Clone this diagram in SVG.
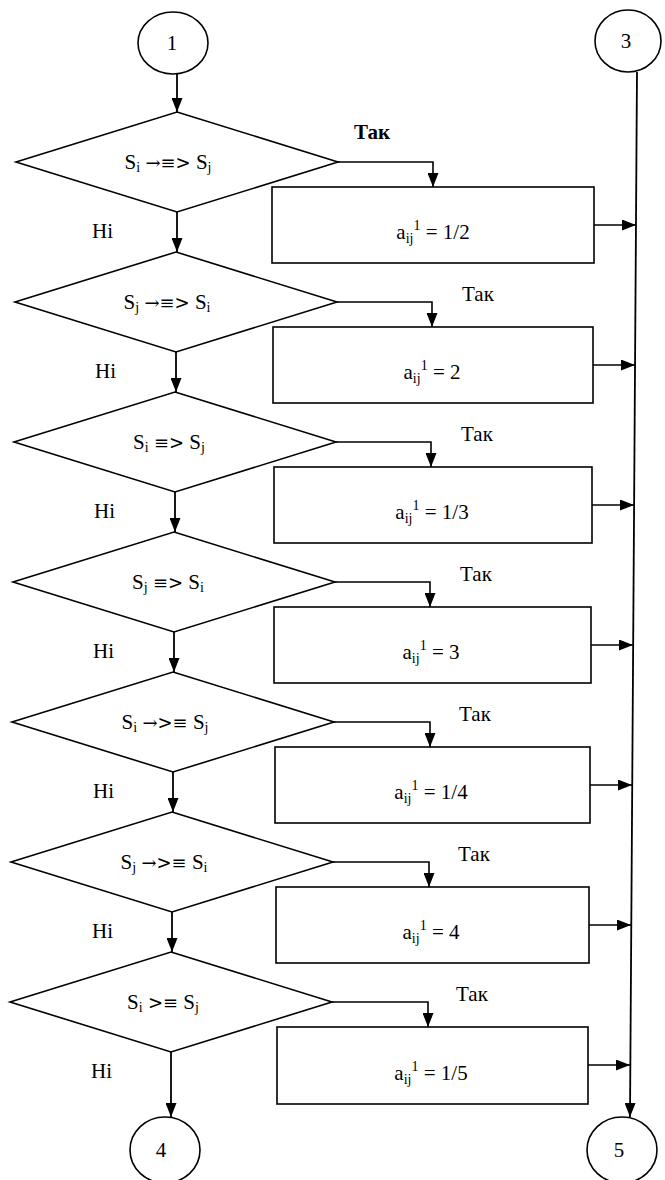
<svg xmlns="http://www.w3.org/2000/svg" width="665" height="1180" viewBox="0 0 665 1180">
<style>
.s{fill:none;stroke:#000;stroke-width:1.6}
.sh{fill:#fff;stroke:#000;stroke-width:1.6}
.c{fill:none;stroke:#000;stroke-width:1.8}
text{font-family:'Liberation Serif','DejaVu Serif',serif;font-size:21px;fill:#000}
.m{text-anchor:middle}
.sub{font-size:14px}
.ar{font-family:'DejaVu Serif',serif;font-size:18px}
</style>
<defs>
<marker id="ah" viewBox="0 0 14 11" refX="14" refY="5.5" markerWidth="14" markerHeight="11" markerUnits="userSpaceOnUse" orient="auto">
<path d="M0,0 L14,5.5 L0,11 z" fill="#000"/>
</marker>
</defs>
<rect width="665" height="1180" fill="#fff"/>

<g id="connectors">
<line class="c" x1="177" y1="74" x2="177" y2="112" marker-end="url(#ah)"/>
<line class="c" x1="177" y1="212" x2="177" y2="252" marker-end="url(#ah)"/>
<line class="c" x1="176" y1="352" x2="176" y2="392" marker-end="url(#ah)"/>
<line class="c" x1="175" y1="492" x2="175" y2="532" marker-end="url(#ah)"/>
<line class="c" x1="174" y1="632" x2="174" y2="672" marker-end="url(#ah)"/>
<line class="c" x1="173" y1="772" x2="173" y2="812" marker-end="url(#ah)"/>
<line class="c" x1="172" y1="912" x2="172" y2="952" marker-end="url(#ah)"/>
<line class="c" x1="171" y1="1052" x2="171" y2="1117" marker-end="url(#ah)"/>

<polyline class="s" points="338,162 433,162 433,187" marker-end="url(#ah)"/>
<polyline class="s" points="337,302 432,302 432,327" marker-end="url(#ah)"/>
<polyline class="s" points="336,442 431,442 431,467" marker-end="url(#ah)"/>
<polyline class="s" points="335,582 430,582 430,607" marker-end="url(#ah)"/>
<polyline class="s" points="334,722 430,722 430,747" marker-end="url(#ah)"/>
<polyline class="s" points="333,862 429,862 429,887" marker-end="url(#ah)"/>
<polyline class="s" points="332,1002 428,1002 428,1027" marker-end="url(#ah)"/>

<line class="c" x1="637" y1="72" x2="630" y2="1117" marker-end="url(#ah)"/>
<line class="s" x1="594" y1="225" x2="636" y2="225" marker-end="url(#ah)"/>
<line class="s" x1="593" y1="365" x2="635" y2="365" marker-end="url(#ah)"/>
<line class="s" x1="592" y1="505" x2="634" y2="505" marker-end="url(#ah)"/>
<line class="s" x1="591" y1="645" x2="633" y2="645" marker-end="url(#ah)"/>
<line class="s" x1="590" y1="785" x2="632" y2="785" marker-end="url(#ah)"/>
<line class="s" x1="589" y1="925" x2="631" y2="925" marker-end="url(#ah)"/>
<line class="s" x1="588" y1="1065" x2="630" y2="1065" marker-end="url(#ah)"/>

<text x="354" y="139" font-weight="bold">Так</text>
<text x="462" y="301">Так</text>
<text x="461" y="441">Так</text>
<text x="460" y="581">Так</text>
<text x="459" y="721">Так</text>
<text x="458" y="861">Так</text>
<text x="456" y="1001">Так</text>

<text x="92" y="238">Hi</text>
<text x="95" y="378">Hi</text>
<text x="94" y="518">Hi</text>
<text x="93" y="658">Hi</text>
<text x="93" y="798">Hi</text>
<text x="92" y="938">Hi</text>
<text x="91" y="1078">Hi</text>
</g>

<g id="start1">
<ellipse class="sh" cx="173" cy="43" rx="35" ry="31"/>
<text class="m" x="172" y="50">1</text>
</g>
<g id="start3">
<ellipse class="sh" cx="628" cy="41" rx="33" ry="31"/>
<text class="m" x="626" y="48">3</text>
</g>
<g id="end4">
<ellipse class="sh" cx="165" cy="1150" rx="35" ry="33"/>
<text class="m" x="161" y="1157">4</text>
</g>
<g id="end5">
<ellipse class="sh" cx="622" cy="1150" rx="35" ry="33"/>
<text class="m" x="619" y="1157">5</text>
</g>

<g id="d1">
<polygon class="sh" points="177,112 338,162 177,212 16,162"/>
<text class="m" x="168" y="169">S<tspan class="sub" dy="3">i</tspan><tspan dy="-3"> </tspan><tspan class="ar">→≡&gt;</tspan> S<tspan class="sub" dy="3">j</tspan></text>
</g>
<g id="d2">
<polygon class="sh" points="176,252 337,302 176,352 15,302"/>
<text class="m" x="167" y="309">S<tspan class="sub" dy="3">j</tspan><tspan dy="-3"> </tspan><tspan class="ar">→≡&gt;</tspan> S<tspan class="sub" dy="3">i</tspan></text>
</g>
<g id="d3">
<polygon class="sh" points="175,392 336,442 175,492 14,442"/>
<text class="m" x="169" y="449">S<tspan class="sub" dy="3">i</tspan><tspan dy="-3"> </tspan><tspan class="ar">≡&gt;</tspan> S<tspan class="sub" dy="3">j</tspan></text>
</g>
<g id="d4">
<polygon class="sh" points="174,532 335,582 174,632 13,582"/>
<text class="m" x="168" y="589">S<tspan class="sub" dy="3">j</tspan><tspan dy="-3"> </tspan><tspan class="ar">≡&gt;</tspan> S<tspan class="sub" dy="3">i</tspan></text>
</g>
<g id="d5">
<polygon class="sh" points="173,672 334,722 173,772 12,722"/>
<text class="m" x="165" y="729">S<tspan class="sub" dy="3">i</tspan><tspan dy="-3"> </tspan><tspan class="ar">→&gt;≡</tspan> S<tspan class="sub" dy="3">j</tspan></text>
</g>
<g id="d6">
<polygon class="sh" points="172,812 333,862 172,912 11,862"/>
<text class="m" x="164" y="869">S<tspan class="sub" dy="3">j</tspan><tspan dy="-3"> </tspan><tspan class="ar">→&gt;≡</tspan> S<tspan class="sub" dy="3">i</tspan></text>
</g>
<g id="d7">
<polygon class="sh" points="171,952 332,1002 171,1052 10,1002"/>
<text class="m" x="163" y="1009">S<tspan class="sub" dy="3">i</tspan><tspan dy="-3"> </tspan><tspan class="ar">&gt;≡</tspan> S<tspan class="sub" dy="3">j</tspan></text>
</g>

<g id="b1">
<rect class="sh" x="272" y="187" width="322" height="76"/>
<text class="m" x="433" y="239">a<tspan class="sub" dy="4">ij</tspan><tspan class="sub" dy="-13">1</tspan><tspan dy="9"> = 1/2</tspan></text>
</g>
<g id="b2">
<rect class="sh" x="273" y="327" width="320" height="76"/>
<text class="m" x="432" y="379">a<tspan class="sub" dy="4">ij</tspan><tspan class="sub" dy="-13">1</tspan><tspan dy="9"> = 2</tspan></text>
</g>
<g id="b3">
<rect class="sh" x="274" y="467" width="318" height="76"/>
<text class="m" x="432" y="519">a<tspan class="sub" dy="4">ij</tspan><tspan class="sub" dy="-13">1</tspan><tspan dy="9"> = 1/3</tspan></text>
</g>
<g id="b4">
<rect class="sh" x="274" y="607" width="317" height="76"/>
<text class="m" x="431" y="659">a<tspan class="sub" dy="4">ij</tspan><tspan class="sub" dy="-13">1</tspan><tspan dy="9"> = 3</tspan></text>
</g>
<g id="b5">
<rect class="sh" x="275" y="747" width="315" height="76"/>
<text class="m" x="431" y="799">a<tspan class="sub" dy="4">ij</tspan><tspan class="sub" dy="-13">1</tspan><tspan dy="9"> = 1/4</tspan></text>
</g>
<g id="b6">
<rect class="sh" x="276" y="887" width="313" height="76"/>
<text class="m" x="431" y="939">a<tspan class="sub" dy="4">ij</tspan><tspan class="sub" dy="-13">1</tspan><tspan dy="9"> = 4</tspan></text>
</g>
<g id="b7">
<rect class="sh" x="277" y="1027" width="311" height="77"/>
<text class="m" x="431" y="1080">a<tspan class="sub" dy="4">ij</tspan><tspan class="sub" dy="-13">1</tspan><tspan dy="9"> = 1/5</tspan></text>
</g>
</svg>
